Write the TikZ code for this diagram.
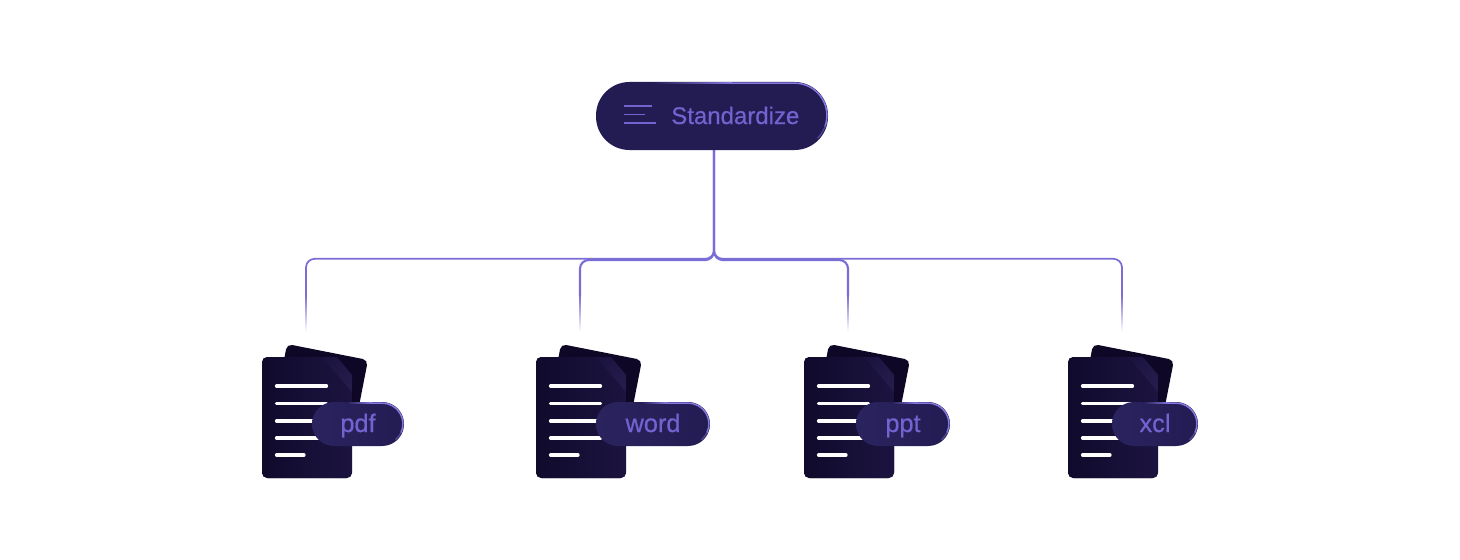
\documentclass[tikz,border=0pt]{standalone}
\usepackage{fontspec}
\setmainfont{Liberation Sans}[FakeBold=0.5]
\usetikzlibrary{calc}
\definecolor{conn}{HTML}{7A6DD6}
\definecolor{hubfill}{HTML}{231C53}
\definecolor{pillL}{HTML}{2B235E}
\definecolor{pageL}{HTML}{100A2C}
\definecolor{pageR}{HTML}{1C1440}
\definecolor{foldc}{HTML}{251C4C}
\definecolor{backP}{HTML}{0E0726}
\definecolor{labelc}{HTML}{7363D0}
\definecolor{edgec}{HTML}{8478E0}
\tikzset{
  hub/.style={fill=hubfill,rounded corners=25.1pt,minimum width=174pt,minimum height=51pt,inner sep=0,outer sep=0},
  pill/.style={left color=pillL,right color=hubfill,rounded corners=16.4pt,minimum height=33pt,inner sep=0,outer sep=0},
  lbl/.style={text=labelc,inner sep=0,anchor=base},
  conn line/.style={draw=conn,rounded corners=6.5pt},
  rim/.style={draw=edgec,line width=1.1pt},
  rimlow/.style={draw=edgec!45!hubfill,line width=1pt},
  rimfade/.style={left color=hubfill,right color=edgec},
  txtline/.style={draw=white,line width=2.4pt,line cap=round},
  iconline/.style={draw=labelc,line width=1.2pt}
}
\newcommand{\docicon}[5]{%
 % #1 left x, #2 name, #3 label, #4 pill left, #5 pill right
 \fill[backP,rounded corners=4pt] (#1+25,344) -- (#1+106,360) -- (#1+88,452) -- (#1+8,436) -- cycle;
 \fill[left color=pageL,right color=pageR,rounded corners=4pt] (#1,357) -- (#1+75,357) -- (#1+90,375) -- (#1+90,478) -- (#1,478) -- cycle;
 \shade[left color=pageR,middle color=pageR,right color=foldc,shading angle=45] (#1+60,357) -- (#1+75,357) -- (#1+90,375) -- (#1+90,392) -- cycle;
 \draw[txtline] (#1+14.5,386) -- (#1+64.5,386);
 \draw[txtline] (#1+14.5,403.5) -- (#1+64.5,403.5);
 \draw[txtline] (#1+14.5,421) -- (#1+64.5,421);
 \draw[txtline] (#1+14.5,438) -- (#1+64.5,438);
 \draw[txtline] (#1+14.5,455) -- (#1+42,455);
 \node[pill,minimum width={(#5-#4)*0.75pt}] (#2) at ({(#4+#5)/2},424) {};
 \shade[rimfade] ($(#2.north)+(-12,.6)$) rectangle ($(#2.north)+(14,1.6)$);
 \draw[rimlow] ($(#2.north east)+(-21.8,1.1)$) ++(0,20.7) ++(25:20.7) arc[start angle=25,end angle=50,radius=20.7];
 \draw[rim] ($(#2.north)+(14,1.1)$) -- ($(#2.north east)+(-21.8,1.1)$) arc[start angle=-90,end angle=25,radius=20.7];
 \node[lbl,font=\fontsize{19}{21}\selectfont] (#2t) at ($(#2.center)+(0,8)$) {#3};
}
\begin{document}
\begin{tikzpicture}[x=0.75pt,y=-0.75pt,line join=round]
\useasboundingbox (0,0) rectangle (1460,560);
\fill[white] (0,0) rectangle (1460,560);

% connectors
\coordinate (hubb) at (714,150);
\foreach \nm/\xx/\yy/\lw in {a/306/258.8/1.3,b/580/260/1.6,c/848/260/1.6,d/1122/258.8/1.3}{
  \coordinate (t\nm) at (\xx,\yy);
  \coordinate (f\nm) at (\xx,296);
  \coordinate (e\nm) at (\xx,332);
  \draw[conn line,line width=\lw pt] (hubb) |- (t\nm) -- (f\nm);
  \foreach \i in {0,...,17}{
    \pgfmathsetmacro{\pct}{100-(\i+0.5)*100/18}
    \pgfmathsetmacro{\nxt}{(\i+1)/18}
    \pgfmathsetmacro{\cur}{\i/18}
    \draw[draw=conn!\pct!white,line width=\lw pt] ($(f\nm)!\cur!(e\nm)$) -- ($(f\nm)!\nxt!(e\nm)$);
  }
}

% hub
\node[hub] (std) at (712,116) {};
\shade[rimfade] ($(std.north)+(-60,.6)$) rectangle ($(std.north)+(20,1.6)$);
\draw[rimlow] ($(std.north east)+(-33.5,1.1)$) ++(0,32.4) ++(20:32.4) arc[start angle=20,end angle=45,radius=32.4];
\draw[rim] ($(std.north)+(20,1.1)$) -- ($(std.north east)+(-33.5,1.1)$) arc[start angle=-90,end angle=20,radius=32.4];
\draw[iconline] (624,106) -- (652,106);
\draw[iconline] (624,114.5) -- (645,114.5);
\draw[iconline] (624,123) -- (656,123);
\node[lbl,anchor=base west,font=\fontsize{18}{20}\selectfont] (stdt) at (671,124) {Standardize};

% documents
\docicon{262}{pdf}{pdf}{312}{404}
\docicon{536}{word}{word}{596}{710}
\docicon{804}{ppt}{ppt}{856}{950}
\docicon{1068}{xcl}{xcl}{1112}{1198}
\end{tikzpicture}
\end{document}
